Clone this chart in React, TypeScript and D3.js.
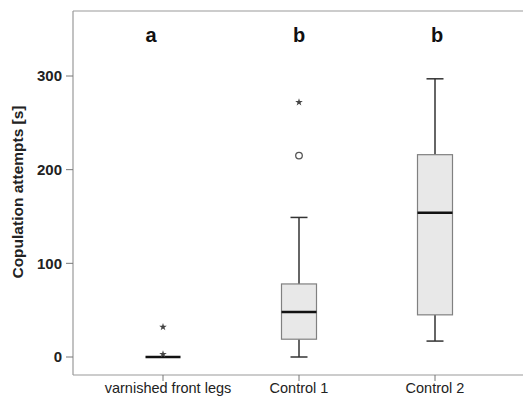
import React from "react";
import * as d3 from "d3";

const categories = ["varnished front legs", "Control 1", "Control 2"];
const groupLetters = ["a", "b", "b"];
const q1 = [0, 19, 45];
const medians = [0, 48, 154];
const q3 = [0, 78, 216];
const whiskerLow = [0, 0, 17];
const whiskerHigh = [0, 149, 297];
const circleOutliers: number[][] = [[], [215], []];
const starOutliers: number[][] = [[32, 3], [272], []];
const yTicks = [0, 100, 200, 300];

const W = 523, H = 398;
const left = 73, top = 11, bottom = 375, right = 523;
const FONT = "Liberation Sans, Arial, sans-serif";

export default function App() {
  const y = d3.scaleLinear().domain([0, 300]).range([357, 76]);
  const x = d3.scalePoint<string>().domain(categories).range([163, 435]);
  const boxW = 35;
  const capW = 17;
  const letterShift = [-12, 0, 2];
  const star = d3.symbol().type(d3.symbolStar).size(18)() as string;
  return (
    <svg width={W} height={H} style={{ position: "absolute", left: 0, top: 0 }}>
      <rect width={W} height={H} fill="#fff" />
      <line x1={left} y1={top} x2={right} y2={top} stroke="#999" strokeWidth={1.2} />
      <line x1={left} y1={top} x2={left} y2={bottom} stroke="#999" strokeWidth={1.2} />
      <line x1={left} y1={bottom} x2={right} y2={bottom} stroke="#999" strokeWidth={1.2} />
      {yTicks.map((t) => (
        <g key={t}>
          <line x1={66} x2={left} y1={y(t)} y2={y(t)} stroke="#777" />
          <text x={62} y={y(t)} dy="0.36em" textAnchor="end" fontFamily={FONT} fontWeight="bold" fontSize={15} fill="#222">{t}</text>
        </g>
      ))}
      <text transform={`translate(23,192) rotate(-90)`} textAnchor="middle" fontFamily={FONT} fontWeight="bold" fontSize={15.5} fill="#222">Copulation attempts [s]</text>
      {categories.map((c, i) => {
        const cx = x(c)!;
        return (
          <g key={c}>
            <line x1={cx} x2={cx} y1={bottom} y2={bottom + 6} stroke="#777" />
            <text x={cx + (i === 0 ? 5 : 0)} y={393} textAnchor="middle" fontFamily={FONT} fontSize={14.5} fill="#222">{c}</text>
            <text x={cx + letterShift[i]} y={42} textAnchor="middle" fontFamily={FONT} fontWeight="bold" fontSize={20} fill="#111">{groupLetters[i]}</text>
            {whiskerHigh[i] > q3[i] && (
              <>
                <line x1={cx} x2={cx} y1={y(q3[i])} y2={y(whiskerHigh[i])} stroke="#333" strokeWidth={1.5} />
                <line x1={cx - capW / 2} x2={cx + capW / 2} y1={y(whiskerHigh[i])} y2={y(whiskerHigh[i])} stroke="#333" strokeWidth={1.5} />
              </>
            )}
            {q1[i] > whiskerLow[i] && (
              <>
                <line x1={cx} x2={cx} y1={y(q1[i])} y2={y(whiskerLow[i])} stroke="#333" strokeWidth={1.5} />
                <line x1={cx - capW / 2} x2={cx + capW / 2} y1={y(whiskerLow[i])} y2={y(whiskerLow[i])} stroke="#333" strokeWidth={1.5} />
              </>
            )}
            {q3[i] > q1[i] && (
              <rect x={cx - boxW / 2} y={y(q3[i])} width={boxW} height={y(q1[i]) - y(q3[i])} fill="#e8e8e8" stroke="#808080" strokeWidth={1.2} />
            )}
            <line x1={cx - boxW / 2} x2={cx + boxW / 2} y1={y(medians[i])} y2={y(medians[i])} stroke="#111" strokeWidth={2.5} />
            {circleOutliers[i].map((v, j) => (
              <circle key={"c" + j} cx={cx} cy={y(v)} r={3.3} fill="none" stroke="#555" strokeWidth={1.3} />
            ))}
            {starOutliers[i].map((v, j) => (
              <path key={"s" + j} d={star} transform={`translate(${cx},${y(v)})`} fill="#444" />
            ))}
          </g>
        );
      })}
    </svg>
  );
}
